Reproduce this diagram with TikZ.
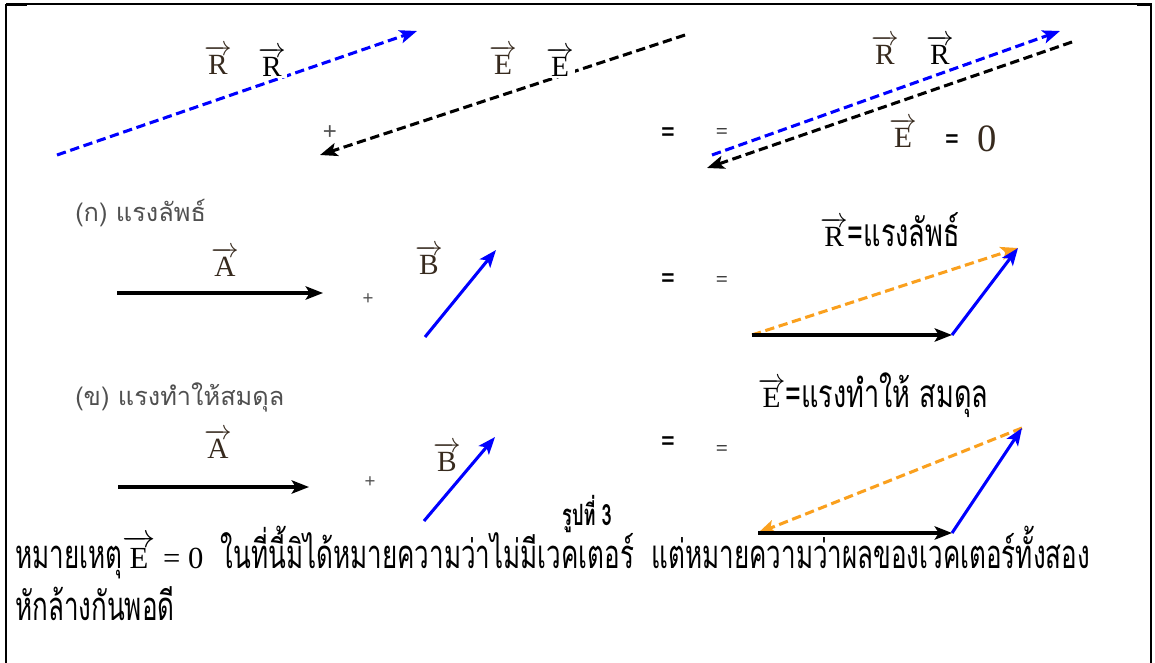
\documentclass[tikz,border=0pt]{standalone}
\usepackage{amsmath}
\usepackage{fontspec}
\usepackage{xcolor}
\usepackage{tikz}
\usetikzlibrary{arrows.meta, positioning}

\setmainfont{Liberation Serif}
\newfontfamily\thaisans[Script=Thai]{Loma}
\newfontfamily\thailabel[Script=Thai, FakeStretch=0.7]{Loma}
\newfontfamily\thainote[Script=Thai, FakeStretch=0.65]{Loma}
\newfontfamily\thaifig[Script=Thai, FakeStretch=0.62]{Loma}
\newfontfamily\numsans{Liberation Sans}

\definecolor{vecblue}{RGB}{0,0,255}
\definecolor{vecorange}{RGB}{250,160,30}
\definecolor{capgray}{RGB}{80,80,80}
\definecolor{labdark}{RGB}{55,42,30}

\newcommand{\vecsym}[1]{$\overrightarrow{\text{#1}}$}

\begin{document}
\begin{tikzpicture}[x=0.75pt, y=-0.75pt,
  arr/.style={-{Stealth[length=13pt, width=10pt, inset=3pt]}, line width=2.3pt},
  darr/.style={arr, dash pattern=on 7pt off 3.5pt},
  vlab/.style={font=\fontsize{22}{24}\selectfont, fill=white, inner sep=1pt},
  sym/.style={font=\numsans\fontsize{17}{19}\selectfont, inner sep=0pt},
  thinsym/.style={font=\fontsize{16}{18}\selectfont, inner sep=0pt},
  plussym/.style={font=\numsans\fontsize{14}{16}\selectfont, text=capgray, inner sep=0pt},
  caplabel/.style={font=\thaisans\fontsize{19}{22}\selectfont, text=capgray, anchor=west, inner sep=0pt},
  note/.style={font=\thainote\fontsize{30}{33}\selectfont, anchor=base west, inner sep=0pt},
]
  \useasboundingbox (0,0) rectangle (1155,663);

  % frame
  \draw[line width=2.2pt] (6,4) -- (6,670);
  \draw[line width=1.1pt] (6,4) -- (1151,4) -- (1151,670);
  \draw[line width=2.2pt] (6,4.8) -- (27,4.8);
  \draw[line width=2.2pt] (1137,4.8) -- (1151,4.8);

  % top row: R and E cancel
  \coordinate (rs) at (57,155);   \coordinate (re) at (417,31);
  \coordinate (es) at (685,35);   \coordinate (ee) at (320,155);
  \coordinate (rs2) at (712,155); \coordinate (re2) at (1060,31);
  \coordinate (es2) at (1072,42); \coordinate (ee2) at (707,168);
  \draw[darr, vecblue] (rs) -- (re);
  \draw[darr] (es) -- (ee);
  \draw[darr, vecblue] (rs2) -- (re2);
  \draw[darr] (es2) -- (ee2);

  \node[vlab, text=labdark] (r1a) at (218,60) {\vecsym{R}};
  \node[vlab] (r1b) at (272,62) {\vecsym{R}};
  \node[vlab, text=labdark] (e1a) at (503,60) {\vecsym{E}};
  \node[vlab] (e1b) at (560,62) {\vecsym{E}};
  \node[vlab, text=labdark] (r2a) at (885,50) {\vecsym{R}};
  \node[vlab] (r2b) at (940,50) {\vecsym{R}};
  \node[plussym, font=\numsans\fontsize{18}{20}\selectfont] (plus1) at (330,133) {+};
  \node[sym, font=\numsans\bfseries\fontsize{17}{19}\selectfont] (eq1a) at (668,134) {=};
  \node[thinsym] (eq1b) at (722,134) {=};
  \node[vlab, text=labdark] (ezero) at (903,133) {\vecsym{E}};
  \node[sym, font=\numsans\bfseries\fontsize{17}{19}\selectfont] (eqz) at (952,141) {=};
  \node[sym, font=\fontsize{29}{31}\selectfont, text=labdark] (zero) at (987,139) {0};

  % (k) resultant
  \node[caplabel] (capk) at (75,213) {(ก) แรงลัพธ์};
  \coordinate (ak1) at (117,293); \coordinate (ak2) at (323,293);
  \coordinate (bk1) at (425,337); \coordinate (bk2) at (496,250);
  \draw[arr] (ak1) -- (ak2);
  \draw[arr, vecblue] (bk1) -- (bk2);
  \node[vlab, text=labdark] (labak) at (225,262) {\vecsym{A}};
  \node[vlab, text=labdark] (labbk) at (429,260) {\vecsym{B}};
  \node[plussym] (plusk) at (368,299) {+};
  \node[sym, font=\numsans\bfseries\fontsize{17}{19}\selectfont] (eqka) at (668,280) {=};
  \node[thinsym] (eqkb) at (722,282) {=};

  \coordinate (sk0) at (752,335); \coordinate (sk1) at (952,335); \coordinate (sk2) at (1018,248);
  \draw[darr, vecorange] (sk0) -- (sk2);
  \draw[arr] (sk0) -- (sk1);
  \draw[arr, vecblue] (sk1) -- (sk2);
  \node[font=\fontsize{22}{24}\selectfont, inner sep=0pt] (labrk) at (890,230)
    {\vecsym{R}\thailabel\fontsize{29}{31}\selectfont =แรงลัพธ์};

  % (kh) equilibrant
  \node[caplabel] (capkh) at (75,397) {(ข) แรงทำให้สมดุล};
  \coordinate (akh1) at (118,487); \coordinate (akh2) at (309,487);
  \coordinate (bkh1) at (424,521); \coordinate (bkh2) at (495,437);
  \draw[arr] (akh1) -- (akh2);
  \draw[arr, vecblue] (bkh1) -- (bkh2);
  \node[vlab, text=labdark] (labakh) at (218,444) {\vecsym{A}};
  \node[vlab, text=labdark] (labbkh) at (447,457) {\vecsym{B}};
  \node[plussym] (pluskh) at (370,482) {+};
  \node[sym, font=\numsans\bfseries\fontsize{17}{19}\selectfont] (eqkha) at (668,443) {=};
  \node[thinsym] (eqkhb) at (722,451) {=};

  \coordinate (skh0) at (758,533); \coordinate (skh1) at (952,533); \coordinate (skh2) at (1022,428);
  \draw[darr, vecorange] (skh2) -- (skh0);
  \draw[arr] (skh0) -- (skh1);
  \draw[arr, vecblue] (skh1) -- (skh2);
  \node[font=\fontsize{22}{24}\selectfont, inner sep=0pt] (labekh) at (873,395)
    {\vecsym{E}\thailabel\fontsize{29}{31}\selectfont =แรงทำให้ สมดุล};

  \node[font=\thaifig\bfseries\fontsize{22}{24}\selectfont, inner sep=0pt] (fig) at (587,514) {รูปที่ 3};

  % note
  \node[note] (note1) at (15,568)
    {หมายเหตุ{\rmfamily\fontsize{23}{25}\selectfont\vecsym{E} = 0}\ \ ในที่นี้มิได้หมายความว่าไม่มีเวคเตอร์\ \ แต่หมายความว่าผลของเวคเตอร์ทั้งสอง};
  \node[note] (note2) at (15,620) {หักล้างกันพอดี};
\end{tikzpicture}
\end{document}
